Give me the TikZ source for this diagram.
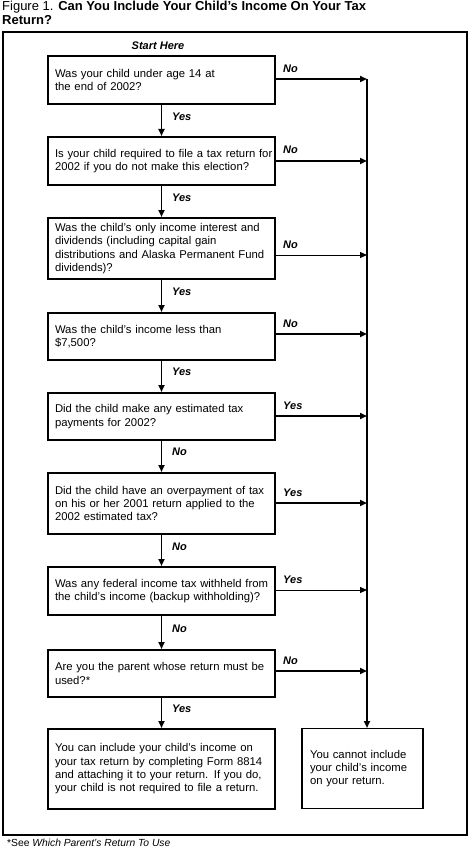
\documentclass[tikz,border=0pt]{standalone}
\usepackage{fontspec}
\setmainfont{Liberation Sans}
\usetikzlibrary{arrows.meta}
\newcommand{\qfont}{\fontsize{11.3}{13.4}\selectfont\hyphenpenalty10000\exhyphenpenalty10000\hfuzz5pt\relax}
\begin{document}
\begin{tikzpicture}[x=1pt,y=-1pt,
  qbox/.style={draw,line width=1.8pt,minimum width=227pt,text width=213pt,inner xsep=7pt,
    align=left,font=\qfont,anchor=north},
  rbox/.style={draw,line width=1.3pt,minimum width=121pt,text width=105pt,inner xsep=8pt,
    align=left,font=\qfont,anchor=north},
  lbl/.style={font=\fontsize{11}{12}\selectfont\bfseries\itshape,inner sep=0pt},
  arr/.style={line width=1.8pt,-{Triangle[length=7pt,width=6pt]}},
  tarr/.style={line width=1pt,-{Triangle[length=7pt,width=6pt]}}]
\useasboundingbox (0,0) rectangle (469,853);
% title
\node[anchor=north west,align=left,inner sep=0pt,font=\fontsize{13}{14}\selectfont] (title) at (2,1)
  {Figure 1. \textbf{Can You Include Your Child's Income On Your Tax}\\\textbf{Return?}};
% frame
\draw[line width=1.8pt] (3,32) rectangle (467,835);
\node[lbl,anchor=base] (start) at (158,50) {Start Here};
% boxes
\node[qbox,minimum height=48pt] (b1) at (161.5,55) {Was your child under age 14 at\\the end of 2002?};
\node[qbox,minimum height=48pt] (b2) at (161.5,136) {\mbox{Is your child required to file a tax return for}\\2002 if you do not make this election?};
\node[qbox,minimum height=61pt] (b3) at (161.5,217) {Was the child's only income interest and\\dividends (including capital gain\\distributions and Alaska Permanent Fund\\dividends)?};
\node[qbox,minimum height=47pt] (b4) at (161.5,312) {Was the child's income less than\\\$7,500?};
\node[qbox,minimum height=47pt] (b5) at (161.5,392) {Did the child make any estimated tax\\payments for 2002?};
\node[qbox,minimum height=61pt] (b6) at (161.5,472) {Did the child have an overpayment of tax\\on his or her 2001 return applied to the\\2002 estimated tax?};
\node[qbox,minimum height=48pt] (b7) at (161.5,566) {\mbox{Was any federal income tax withheld from}\\the child's income (backup withholding)?};
\node[qbox,minimum height=47pt] (b8) at (161.5,649) {Are you the parent whose return must be\\used?*};
\node[qbox,minimum height=80pt] (b9) at (161.5,728) {You can include your child's income on\\your tax return by completing Form 8814\\and attaching it to your return. If you do,\\your child is not required to file a return.};
\node[rbox,minimum height=80pt] (r) at (362.5,728) {You cannot include\\your child's income\\on your return.};
% trunk coordinates
\coordinate (t1) at (367,79);
\coordinate (t2) at (367,161);
\coordinate (t3) at (367,255);
\coordinate (t4) at (367,334);
\coordinate (t5) at (367,416);
\coordinate (t6) at (367,503);
\coordinate (t7) at (367,590);
\coordinate (t8) at (367,671);
\draw[line width=1.8pt] (t1) -- (t8);
\draw[arr] (t8) -- (r.north -| t8);
% horizontal arrows
\draw[arr] (b1.east |- t1) -- (t1);
\draw[arr] (b2.east |- t2) -- (t2);
\draw[tarr] (b3.east |- t3) -- (t3);
\draw[arr] (b4.east |- t4) -- (t4);
\draw[arr] (b5.east |- t5) -- (t5);
\draw[arr] (b6.east |- t6) -- (t6);
\draw[tarr] (b7.east |- t7) -- (t7);
\draw[arr] (b8.east |- t8) -- (t8);
\node[lbl,anchor=base west] (n1) at (283,73) {No};
\node[lbl,anchor=base west] (n2) at (283,154) {No};
\node[lbl,anchor=base west] (n3) at (283,248) {No};
\node[lbl,anchor=base west] (n4) at (283,327) {No};
\node[lbl,anchor=base west] (n5) at (283,409) {Yes};
\node[lbl,anchor=base west] (n6) at (283,496) {Yes};
\node[lbl,anchor=base west] (n7) at (283,583) {Yes};
\node[lbl,anchor=base west] (n8) at (283,664) {No};
% vertical arrows
\draw[arr] (b1) -- (b2);
\draw[arr] (b2) -- (b3);
\draw[arr] (b3) -- (b4);
\draw[arr] (b4) -- (b5);
\draw[arr] (b5) -- (b6);
\draw[arr] (b6) -- (b7);
\draw[arr] (b7) -- (b8);
\draw[arr] (b8) -- (b9);
\node[lbl,anchor=base west] (y1) at (172,121) {Yes};
\node[lbl,anchor=base west] (y2) at (172,201) {Yes};
\node[lbl,anchor=base west] (y3) at (172,295) {Yes};
\node[lbl,anchor=base west] (y4) at (172,375) {Yes};
\node[lbl,anchor=base west] (y5) at (172,455) {No};
\node[lbl,anchor=base west] (y6) at (172,550) {No};
\node[lbl,anchor=base west] (y7) at (172,632) {No};
\node[lbl,anchor=base west] (y8) at (172,712) {Yes};
% footnote
\node[anchor=base west,inner sep=0pt,font=\fontsize{10.3}{11}\selectfont] (fn) at (7,846) {*See \textit{Which Parent's Return To Use}};
\end{tikzpicture}
\end{document}
